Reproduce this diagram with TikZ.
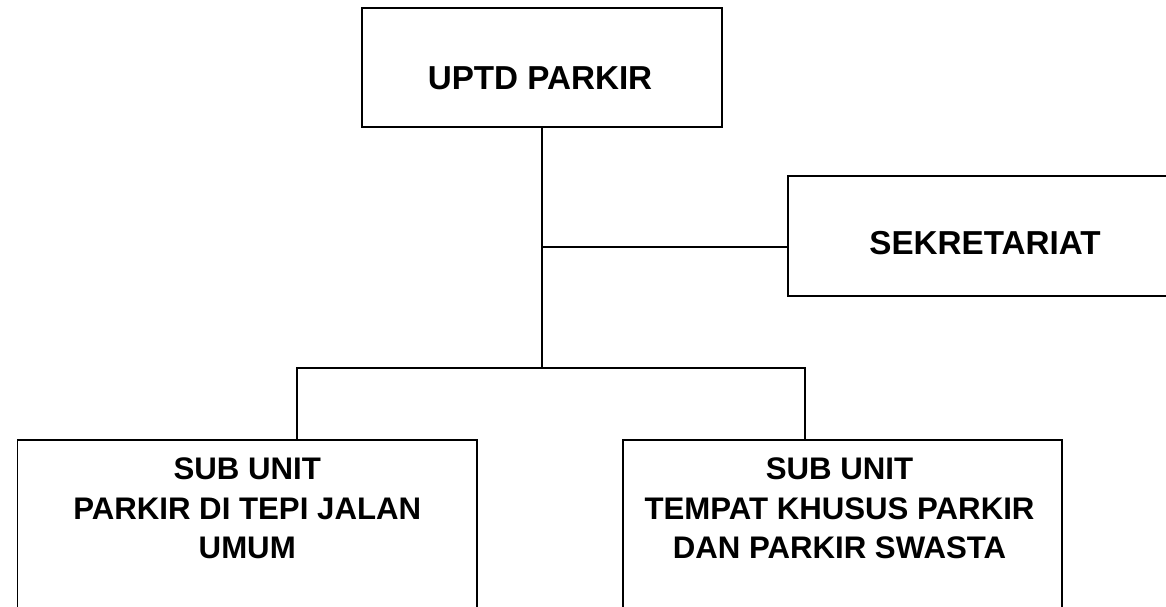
\documentclass[tikz,border=0pt]{standalone}
\usepackage{fontspec}
\setmainfont{Liberation Sans}
\tikzset{
  orgbox/.style={draw=black, line width=0.8pt, rectangle, inner sep=0pt, font=\bfseries},
  topfont/.style={font=\fontsize{16.6}{19}\selectfont\bfseries},
  link/.style={draw=black, line width=0.7pt}
}
\newcommand{\subtext}[2]{\parbox[c][105pt][t]{#1}{\centering\fontsize{15.6}{19.75}\selectfont\bfseries\vspace*{9.1pt}#2}}
\begin{document}
\begin{tikzpicture}[x=0.5pt, y=-0.5pt]
\useasboundingbox (0,0) rectangle (1166,606);
\clip (0,0) rectangle (1166,606);
\fill[white] (0,0) rectangle (1166,606);
% boxes
\node[orgbox, topfont, minimum width=180pt, minimum height=59.5pt] (uptd) at (542,67.5)
  {\hspace*{-2pt}\raisebox{-5.5pt}[\height][\depth]{UPTD PARKIR}};
\node[orgbox, topfont, minimum width=197pt, minimum height=60pt] (sek) at (985,236)
  {\raisebox{-3.5pt}[\height][\depth]{SEKRETARIAT}};
\node[orgbox, anchor=north] (sub1) at (247.25,439)
  {\subtext{229.75pt}{SUB UNIT\\PARKIR DI TEPI JALAN\\UMUM}};
\node[orgbox, anchor=north] (sub2) at (842.5,439)
  {\subtext{219.5pt}{\hspace*{-3pt}SUB UNIT\\\hspace*{-3pt}TEMPAT KHUSUS PARKIR\\\hspace*{-3pt}DAN PARKIR SWASTA}};
% junctions
\coordinate (jS) at (542,247);
\coordinate (jM) at (542,368);
\coordinate (jL) at (297,368);
\coordinate (jR) at (805,368);
% connectors
\draw[link] (uptd.south) -- (jM);
\draw[link] (jS) -- (jS -| sek.west);
\draw[link] (sub1.north -| jL) -- (jL) -- (jR) -- (sub2.north -| jR);
\end{tikzpicture}
\end{document}
